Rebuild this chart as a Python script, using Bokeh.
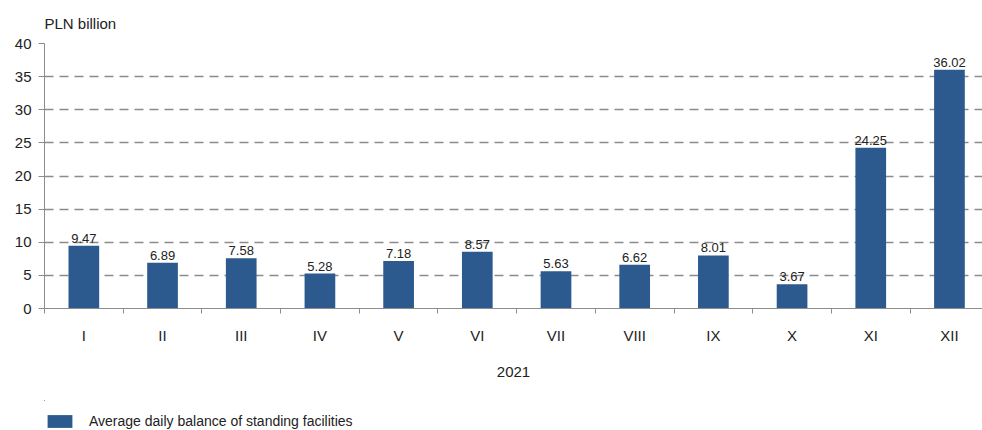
from bokeh.plotting import figure
from bokeh.layouts import column
from bokeh.models import (ColumnDataSource, FixedTicker, LabelSet, Legend, LegendItem, Range1d, Title)
from bokeh.core.properties import value
from bokeh.embed import file_html
from bokeh.resources import INLINE

months = ["I", "II", "III", "IV", "V", "VI", "VII", "VIII", "IX", "X", "XI", "XII"]
values = [9.47, 6.89, 7.58, 5.28, 7.18, 8.57, 5.63, 6.62, 8.01, 3.67, 24.25, 36.02]
y_ticks = [0, 5, 10, 15, 20, 25, 30, 35, 40]
year_label = "2021"
unit_label = "PLN billion"
series_name = "Average daily balance of standing facilities"

FONT = "Liberation Sans"
BAR = "#2C5A8E"
GREY = "#8C8C8C"
TXT = "#222222"

pos = list(range(1, len(months) + 1))
src = ColumnDataSource(dict(x=pos, top=values, lab=[f"{v:.2f}" for v in values]))

p = figure(width=982, height=400, output_backend="svg", toolbar_location=None,
           x_range=Range1d(0.5, 12.42), y_range=Range1d(0, 40),
           min_border_left=44, min_border_right=0, min_border_top=43, min_border_bottom=92)
p.outline_line_color = None
p.background_fill_color = "white"
p.border_fill_color = "white"

r = p.vbar(x="x", top="top", width=0.39, bottom=0, source=src, color=BAR, line_color=None)

labels = LabelSet(x="x", y="top", text="lab", source=src, text_align="center",
                  text_baseline="bottom", y_offset=3, text_font=value(FONT),
                  text_font_size="13px", text_color=TXT)
p.add_layout(labels)

# y axis
p.yaxis.ticker = FixedTicker(ticks=y_ticks)
p.yaxis.axis_line_color = GREY
p.yaxis.major_tick_line_color = GREY
p.yaxis.major_tick_out = 6
p.yaxis.major_tick_in = 0
p.yaxis.minor_tick_line_color = None
p.yaxis.major_label_text_font = FONT
p.yaxis.major_label_text_font_size = "15px"
p.yaxis.major_label_text_color = TXT
p.yaxis.major_label_standoff = 7

# x axis: labels at centres, ticks at boundaries
p.xaxis.ticker = FixedTicker(ticks=pos, minor_ticks=[i + 0.5 for i in range(len(months) + 1)])
p.xaxis.major_label_overrides = {i: m for i, m in zip(pos, months)}
p.xaxis.axis_line_color = GREY
p.xaxis.major_tick_line_color = None
p.xaxis.minor_tick_line_color = GREY
p.xaxis.minor_tick_out = 5
p.xaxis.minor_tick_in = 0
p.xaxis.major_label_text_font = FONT
p.xaxis.major_label_text_font_size = "15px"
p.xaxis.major_label_text_color = TXT
p.xaxis.major_label_standoff = 12
p.xaxis.axis_label = year_label
p.xaxis.axis_label_text_font = FONT
p.xaxis.axis_label_text_font_size = "15px"
p.xaxis.axis_label_text_font_style = "normal"
p.xaxis.axis_label_text_color = TXT
p.xaxis.axis_label_standoff = 20

p.xgrid.grid_line_color = None
p.ygrid.grid_line_color = GREY
p.ygrid.grid_line_dash = "9 6"
p.ygrid.grid_line_width = 1.3

title = Title(text=unit_label, align="left", text_font=FONT, text_font_size="15px",
              text_font_style="normal", text_color=TXT, offset=0, standoff=24)
p.add_layout(title, "above")

# legend strip below the chart (bars lie outside its ranges; only the swatch shows)
lf = figure(width=982, height=30, output_backend="svg", toolbar_location=None,
            x_axis_type=None, y_axis_type=None, x_range=Range1d(50, 51), y_range=Range1d(-20, -10),
            min_border_left=44, min_border_right=0, min_border_top=0, min_border_bottom=0)
lf.outline_line_color = None
lf.xgrid.grid_line_color = None
lf.ygrid.grid_line_color = None
lr = lf.vbar(x="x", top="top", width=0.39, bottom=0, source=src, color=BAR, line_color=None)
legend = Legend(items=[LegendItem(label=series_name, renderers=[lr])],
                location=(0, 1), orientation="horizontal",
                label_text_font=FONT, label_text_font_size="14px", label_text_color=TXT,
                glyph_width=31, glyph_height=16, border_line_color=None,
                background_fill_alpha=0, label_height=16,
                padding=0, margin=0, spacing=0, label_standoff=14)
lf.add_layout(legend)

layout = column(p, lf, spacing=0)
open("out.html", "w").write(file_html(layout, INLINE))
